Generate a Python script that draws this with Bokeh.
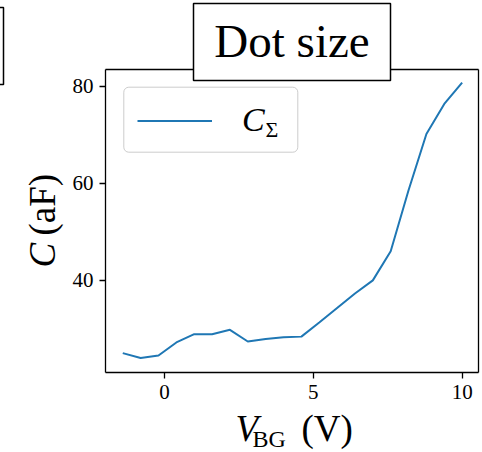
import math

from bokeh.core.properties import value
from bokeh.embed import file_html
from bokeh.models import FixedTicker, Legend, LegendItem, LinearAxis, Quad, Range1d
from bokeh.plotting import figure
from bokeh.resources import INLINE

# Back-gate voltage (V) and total dot capacitance C_Sigma (aF)
v_bg = [-1.4, -0.8, -0.2, 0.4, 1.0, 1.6, 2.2, 2.8, 3.4, 4.0,
        4.6, 5.2, 5.8, 6.4, 7.0, 7.6, 8.2, 8.8, 9.4, 10.0]
c_sigma = [25.0, 24.0, 24.5, 27.2, 28.9, 28.9, 29.8, 27.4, 27.9, 28.25,
           28.4, 31.3, 34.3, 37.3, 40.0, 46.0, 58.6, 70.2, 76.4, 80.8]
x_ticks = [0, 5, 10]
y_ticks = [40, 60, 80]

W, H = 482, 452
LEFT, RIGHT, TOP, BOTTOM = 105, 4, 69, 80
X0, X1 = -1.98, 10.55
Y0, Y1 = 21.0, 83.5
FW, FH = W - LEFT - RIGHT, H - TOP - BOTTOM

SERIF = "Liberation Serif"
INK = "#000000"
HAS_RADIUS = "border_radius" in Quad.properties()


def dx(px):
    """Canvas x pixel -> data x."""
    return X0 + (px - LEFT) * (X1 - X0) / FW


def dy(py):
    """Canvas y pixel (from top) -> data y."""
    return Y1 - (py - TOP) * (Y1 - Y0) / FH


p = figure(width=W, height=H, x_range=Range1d(X0, X1), y_range=Range1d(Y0, Y1),
           output_backend="svg", toolbar_location=None,
           min_border_left=LEFT, min_border_right=RIGHT,
           min_border_top=TOP, min_border_bottom=BOTTOM)
p.grid.visible = False
p.outline_line_color = None
p.background_fill_color = "white"
p.border_fill_color = "white"

for ax, ticks in ((p.xaxis[0], x_ticks), (p.yaxis[0], y_ticks)):
    ax.ticker = FixedTicker(ticks=ticks)
    ax.axis_line_color = INK
    ax.axis_line_width = 1.3
    ax.major_tick_line_color = INK
    ax.major_tick_line_width = 1.3
    ax.major_tick_in = 0
    ax.major_tick_out = 6
    ax.minor_tick_line_color = None
    ax.major_label_text_font = SERIF
    ax.major_label_text_font_size = "21px"
    ax.major_label_text_color = INK
    ax.major_label_standoff = 6

# closing spines on top and right
for side in ("above", "right"):
    spine = LinearAxis(ticker=FixedTicker(ticks=[]), axis_line_color=INK,
                       axis_line_width=1.3, major_tick_line_color=None,
                       minor_tick_line_color=None, major_label_text_color=None)
    p.add_layout(spine, side)

# legend frame, drawn beneath the data
frame_kw = dict(fill_color="white", fill_alpha=0.8, line_color="#cccccc",
                line_width=1, level="underlay")
if HAS_RADIUS:
    frame_kw["border_radius"] = 5
p.quad(left=[dx(123.3)], right=[dx(297.3)], top=[dy(86.7)], bottom=[dy(151.7)],
       **frame_kw)

line = p.line(v_bg, c_sigma, line_color="#1f77b4", line_width=2)

# frameless legend: its entry sits inside the frame drawn above
legend = Legend(items=[LegendItem(label="C", renderers=[line])],
                location="top_left", margin=32, padding=0,
                glyph_width=75, glyph_height=27, label_height=27, label_width=40,
                label_standoff=30, label_text_font=SERIF,
                label_text_font_style="italic", label_text_font_size="34px",
                label_text_color=INK, border_line_color=None,
                background_fill_alpha=0.0)
p.add_layout(legend)


def overlay_text(px, py, txt, size, style="normal", angle=0.0, align="left"):
    """Free text placed by canvas pixel (py = vertical middle), unclipped."""
    p.text(x=[dx(px)], y=[dy(py)], text=[txt], angle=angle,
           text_font=value(SERIF), text_font_style=style,
           text_font_size=size, text_color=INK,
           text_baseline="middle", text_align=align, level="overlay")


def overlay_box(l, r, t, b):
    p.quad(left=[dx(l)], right=[dx(r)], top=[dy(t)], bottom=[dy(b)],
           fill_color="white", fill_alpha=1.0, line_color=INK, line_width=1.5,
           level="overlay")


# subscript of the legend entry
overlay_text(265, 128.6, "Σ", "22px")

# axis titles
overlay_text(235, 427.5, "V", "37px", style="italic")
overlay_text(252, 438, "BG", "24px")
overlay_text(301, 427.5, "(V)", "37px")
overlay_text(41.5, 267, "C", "37px", style="italic", angle=math.pi / 2)
overlay_text(41.5, 235, "(aF)", "37px", angle=math.pi / 2)

# boxed panel titles (the neighbouring panel's box is cut at the left edge)
overlay_box(-60, 3, 7, 84)
overlay_box(193, 390, 3, 80)
overlay_text(291.5, 40, "Dot size", "47px", align="center")

open("out.html", "w").write(file_html(p, INLINE))
